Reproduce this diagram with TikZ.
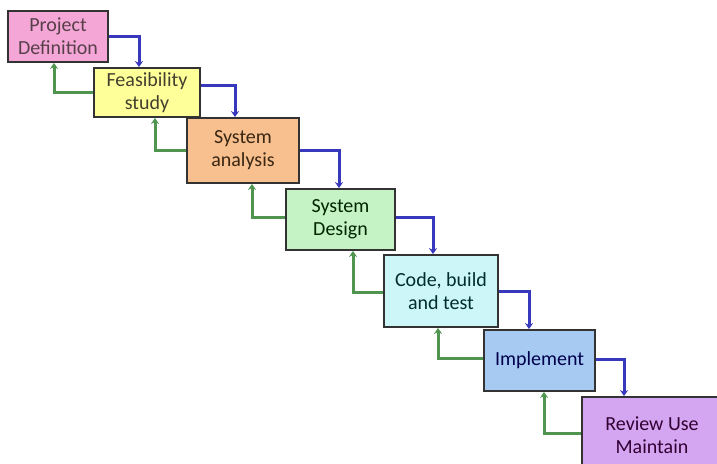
\documentclass[tikz,border=0pt]{standalone}
\usepackage{fontspec}
\setmainfont{Carlito}
\usetikzlibrary{arrows.meta}
\definecolor{fpink}{HTML}{F4A6D7}
\definecolor{fyellow}{HTML}{FFFF99}
\definecolor{fpeach}{HTML}{F8C08E}
\definecolor{fgreen}{HTML}{C6F3C6}
\definecolor{fcyan}{HTML}{CCF6F8}
\definecolor{fblue}{HTML}{A6CAF2}
\definecolor{fviolet}{HTML}{D4A6F2}
\definecolor{fwdcol}{HTML}{3838BC}
\definecolor{backcol}{HTML}{4F954F}
\tikzset{
  stage/.style={draw=black!80, line width=1.8pt, align=center, inner sep=0pt,
    font=\fontsize{20}{23}\selectfont},
  fwd/.style={draw=fwdcol, line width=3pt, -{Stealth[length=6pt,width=8pt]}},
  back/.style={draw=backcol, line width=3pt, -{Stealth[length=6pt,width=8pt]}},
}
\begin{document}
\begin{tikzpicture}[x=1pt,y=-1pt]
\useasboundingbox (0,0) rectangle (717,463);
\clip (0,0) rectangle (717,463);
\fill[white] (0,0) rectangle (717,463);
% stages of the waterfall
\node[stage, fill=fpink, text=black!60!magenta!60!black, minimum width=100pt, minimum height=51pt] (b1) at (58,36.5) {Project\\Definition};
\node[stage, fill=fyellow, text=black!70!olive, minimum width=106pt, minimum height=49pt] (b2) at (147,92.5) {Feasibility\\study};
\node[stage, fill=fpeach, text=black!70!brown, minimum width=112pt, minimum height=65pt] (b3) at (243,150.5) {System\\analysis};
\node[stage, fill=fgreen, text=black!70!green!50!black, minimum width=109pt, minimum height=61pt] (b4) at (340.5,219.5) {System\\Design};
\node[stage, fill=fcyan, text=black!65!teal, minimum width=114pt, minimum height=72pt] (b5) at (441,291) {Code, build\\and test};
\node[stage, fill=fblue, text=black!70!blue, minimum width=111pt, minimum height=61pt] (b6) at (539.5,360.5) {Implement};
\node[stage, fill=fviolet, text=black!60!violet, minimum width=140pt, minimum height=76pt] (b7) at (652,435) {Review Use\\Maintain};
% forward flow
\draw[fwd] (b1.east) -| ([xshift=-8pt]b2.north);
\draw[fwd] ([yshift=7.5pt]b2.east) -| ([xshift=-8pt]b3.north);
\draw[fwd] (b3.east) -| ([xshift=-1.5pt]b4.north);
\draw[fwd] ([yshift=2.5pt]b4.east) -| ([xshift=-8pt]b5.north);
\draw[fwd] (b5.east) -| ([xshift=-10.5pt]b6.north);
\draw[fwd] ([yshift=1.5pt]b6.east) -| ([xshift=-28pt]b7.north);
% feedback flow
\draw[back] (b2.west) -| ([xshift=-4pt]b1.south);
\draw[back] (b3.west) -| ([xshift=8pt]b2.south);
\draw[back] ([yshift=2.5pt]b4.west) -| ([xshift=9pt]b3.south);
\draw[back] ([yshift=-1pt]b5.west) -| ([xshift=12.5pt]b4.south);
\draw[back] ([yshift=2.5pt]b6.west) -| ([xshift=-3pt]b5.south);
\draw[back] ([yshift=2pt]b7.west) -| ([xshift=4.5pt]b6.south);
\end{tikzpicture}
\end{document}
